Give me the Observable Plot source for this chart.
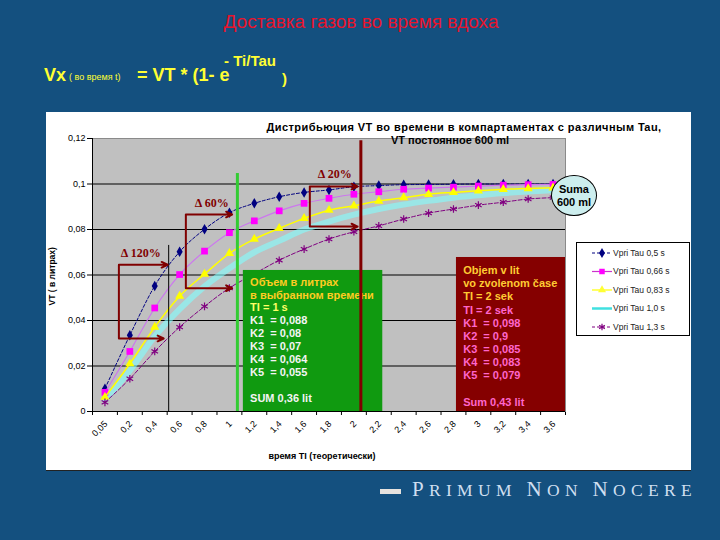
<!DOCTYPE html>
<html><head><meta charset="utf-8">
<script src="https://cdn.jsdelivr.net/npm/d3@7"></script>
<script src="https://cdn.jsdelivr.net/npm/@observablehq/plot@0.6"></script>
<style>
html,body{margin:0;padding:0;}
body{width:720px;height:540px;overflow:hidden;background:#14507f;font-family:"Liberation Sans",Arial,sans-serif;}
#slide{position:relative;width:720px;height:540px;}
.abs{position:absolute;white-space:nowrap;line-height:1;}
#chartbox{position:absolute;left:46px;top:112px;width:645px;height:358px;background:#fff;border-bottom:1px solid #222;z-index:0;}
#plot{position:absolute;left:0;top:0;z-index:1;}
#plot svg{overflow:visible;}
.hi{z-index:3;}
</style></head><body><div id="slide">
<div id="chartbox"></div>
<div id="plot"></div>
<div class="abs hi" style="left:0;width:722px;text-align:center;top:12px;font-size:19px;color:#e8142c;">Доставка газов во время вдоха</div>
<div class="abs hi" style="left:44px;top:65.8px;font-size:18px;font-weight:bold;color:#ffff33;">Vx</div>
<div class="abs hi" style="left:69px;top:73.4px;font-size:9px;color:#ffff33;">( во время t)</div>
<div class="abs hi" style="left:137px;top:65.8px;font-size:18px;font-weight:bold;color:#ffff33;">= VT * (1- e</div>
<div class="abs hi" style="left:224px;top:53.3px;font-size:15px;font-weight:bold;color:#ffff33;">- Ti/Tau</div>
<div class="abs hi" style="left:282px;top:71.3px;font-size:15px;font-weight:bold;color:#ffff33;">)</div>
<div id="t1" class="abs hi" style="left:214px;width:500px;text-align:center;top:121.7px;font-size:11px;letter-spacing:0.45px;font-weight:bold;color:#000;">Дистрибьюция VT во времени в компартаментах с различным Tau,</div>
<div id="t2" class="abs hi" style="left:250px;width:400px;text-align:center;top:134.7px;font-size:11px;font-weight:bold;color:#000;">VT постоянное 600 ml</div>
<div class="abs hi" style="left:172px;width:300px;text-align:center;top:452.4px;font-size:9px;font-weight:bold;color:#000;">время TI (теоретически)</div>
<div class="abs hi" style="left:22px;width:60px;text-align:center;top:272px;font-size:8.5px;font-weight:bold;color:#000;transform:rotate(-90deg);">VT ( в литрах)</div>
<div class="abs hi" style="left:551px;top:175px;width:46px;height:41px;box-sizing:border-box;border:1px solid #000;border-radius:50%;background:#cdeeee;text-align:center;font-size:11px;font-weight:bold;line-height:13px;padding-top:7px;color:#000;">Suma<br>600 ml</div>
<div id="legend" class="abs hi" style="left:576px;top:242px;"></div>
<div class="abs hi" style="left:380px;top:489px;width:21px;height:5px;background:#e6e2de;"></div>
<div id="motto" class="abs hi" style="left:412px;top:479.4px;font-family:'Liberation Serif','DejaVu Serif',serif;color:#cfdff0;font-size:17.5px;line-height:21px;"><span style="font-size:21px">P</span>RIMUM <span style="font-size:21px">N</span>ON <span style="font-size:21px">N</span>OCERE</div>
</div>
<script>
// ---- data ----
const categories = ["0,05","0,2","0,4","0,6","0,8","1","1,2","1,4","1,6","1,8","2","2,2","2,4","2,6","2,8","3","3,2","3,4","3,6"];
const seriesNames = ["Vpri Tau 0,5 s","Vpri Tau 0,66 s","Vpri Tau 0,83 s","Vpri Tau 1,0 s","Vpri Tau 1,3 s"];
const vTau05  = [0.0100,0.0335,0.0552,0.0702,0.0801,0.0874,0.0915,0.0944,0.0963,0.0974,0.0988,0.0993,0.0997,0.0998,0.0999,0.1000,0.1000,0.1000,0.1000];
const vTau066 = [0.0084,0.0264,0.0455,0.0602,0.0705,0.0786,0.0838,0.0882,0.0915,0.0937,0.0955,0.0966,0.0977,0.0982,0.0986,0.0991,0.0995,0.0997,0.0998];
const vTau083 = [0.0063,0.0210,0.0371,0.0507,0.0604,0.0695,0.0758,0.0805,0.0849,0.0885,0.0904,0.0925,0.0940,0.0955,0.0963,0.0970,0.0977,0.0980,0.0983];
const vTau10  = [0.0050,0.0180,0.0330,0.0450,0.0550,0.0630,0.0700,0.0750,0.0800,0.0835,0.0865,0.0890,0.0910,0.0926,0.0940,0.0950,0.0960,0.0967,0.0973];
const vTau13  = [0.0040,0.0144,0.0264,0.0371,0.0462,0.0543,0.0605,0.0665,0.0714,0.0758,0.0790,0.0816,0.0846,0.0872,0.0890,0.0907,0.0920,0.0934,0.0940];
const yTicks = [0,0.02,0.04,0.06,0.08,0.1,0.12];
const yTickLabels = ["0","0,02","0,04","0,06","0,08","0,1","0,12"];

const greenLines = [
  {t:"Объем в литрах", c:"#ffcc22"},
  {t:"в выбранном времени", c:"#ffcc22"},
  {t:"TI = 1 s", c:"#ffff66"},
  {t:"K1  = 0,088", c:"#f4f4f4"},
  {t:"K2  = 0,08", c:"#f4f4f4"},
  {t:"K3  = 0,07", c:"#f4f4f4"},
  {t:"K4  = 0,064", c:"#f4f4f4"},
  {t:"K5  = 0,055", c:"#f4f4f4"},
  {t:"", c:"#f4f4f4"},
  {t:"SUM 0,36 lit", c:"#f4f4f4"}
];
const maroonLines = [
  {t:"Objem v lit", c:"#ffcc33"},
  {t:"vo zvolenom čase", c:"#ffcc33"},
  {t:"TI = 2 sek", c:"#ffcc33"},
  {t:"TI = 2 sek", c:"#ff66cc"},
  {t:"K1  = 0,098", c:"#ff66cc"},
  {t:"K2  = 0,9", c:"#ff66cc"},
  {t:"K3  = 0,085", c:"#ff66cc"},
  {t:"K4  = 0,083", c:"#ff66cc"},
  {t:"K5  = 0,079", c:"#ff66cc"},
  {t:"", c:"#ff66cc"},
  {t:"Sum 0,43 lit", c:"#ff66cc"}
];

// ---- annotations (in data units: x = category index, y = litres) ----
const greenBox = [{x1:6.06, x2:11.66, top:0.062}];
const maroonBox = [{x1:14.62, x2:19, top:0.0677}];
const blackMark = [{x:3.06, top:0.073}];
const greenMark = [{x:5.82, top:0.1046}];
const maroonMark = [{x:10.78, top:0.119}];
const brackets = [
  {label:"\u0394 120%", x0:1.06, xTop:3.02, xBot:2.86, yTop:0.0645, yBot:0.0321, lx:1.94, ly:0.0695},
  {label:"\u0394 60%",  x0:3.75, xTop:5.61, xBot:5.61, yTop:0.0866, yBot:0.0542, lx:4.79, ly:0.0914},
  {label:"\u0394 20%",  x0:8.73, xTop:10.65, xBot:10.65, yTop:0.0989, yBot:0.0813, lx:9.73, ly:0.1042}
];

const toRows = vals => vals.map((v,i) => ({i: i + 0.5, v}));
const d05 = toRows(vTau05), d066 = toRows(vTau066), d083 = toRows(vTau083), d10 = toRows(vTau10), d13 = toRows(vTau13);
const xLabels = categories.map((c,i) => ({c, i: i + 0.5, v: 0}));
const curve = "monotone-x";

const boxText = (lines, box, first, step) => lines.map((l,k) =>
  Plot.text([l], {x: () => box.x1 + 0.27, y: () => box.top, text: "t", fill: "c",
    dy: first + k*step, textAnchor: "start", fontSize: 11, fontWeight: "bold"}));

const chart = Plot.plot({
  width: 720, height: 540,
  marginLeft: 92, marginRight: 155, marginTop: 138, marginBottom: 129,
  style: {background: "transparent", fontFamily: "'Liberation Sans', Arial, sans-serif", fontSize: "9px", color: "#000", overflow: "visible"},
  x: {domain: [0, categories.length], ticks: d3.range(categories.length + 1), tickFormat: () => "", tickSize: 4, label: null},
  y: {domain: [0, 0.12], ticks: yTicks, tickFormat: d => yTickLabels[yTicks.indexOf(d)], tickSize: 5, tickPadding: 2, label: null},
  marks: [
    Plot.frame({fill: "#c0c0c0", stroke: "#8a8a8a"}),
    Plot.ruleY(yTicks.filter(t => t > 0 && t < 0.12), {stroke: "#000", strokeWidth: 1}),
    Plot.line(d10, {x: "i", y: "v", stroke: "#80ffff", strokeWidth: 6, strokeOpacity: 0.6, curve}),
    Plot.line(d05, {x: "i", y: "v", stroke: "#000080", strokeWidth: 1, strokeDasharray: "3,2", curve}),
    Plot.dot(d05, {x: "i", y: "v", symbol: "diamond", fill: "#000080", r: 3.2}),
    Plot.line(d066, {x: "i", y: "v", stroke: "#cc77ee", strokeWidth: 1.2, curve}),
    Plot.dot(d066, {x: "i", y: "v", symbol: "square", fill: "#ff00ff", r: 3.8}),
    Plot.line(d083, {x: "i", y: "v", stroke: "#ffff00", strokeWidth: 1.5, curve}),
    Plot.dot(d083, {x: "i", y: "v", symbol: "triangle", fill: "#ffff00", r: 3.4}),
    Plot.line(d13, {x: "i", y: "v", stroke: "#800080", strokeWidth: 1, strokeDasharray: "4,2", curve}),
    Plot.dot(d13, {x: "i", y: "v", symbol: "asterisk", stroke: "#800080", strokeWidth: 1.2, r: 3.6}),
    Plot.ruleY([0], {stroke: "#000"}),
    Plot.ruleX([0], {stroke: "#000"}),
    Plot.ruleX(blackMark, {x: "x", y1: 0, y2: "top", stroke: "#000", strokeWidth: 1}),
    Plot.ruleX(greenMark, {x: "x", y1: 0, y2: "top", stroke: "#33cc33", strokeWidth: 3}),
    Plot.link(brackets, {x1: "x0", x2: "x0", y1: "yTop", y2: "yBot", stroke: "#800000", strokeWidth: 2}),
    Plot.arrow(brackets, {x1: "x0", x2: "xTop", y1: "yTop", y2: "yTop", stroke: "#800000", strokeWidth: 2, headLength: 5, headAngle: 50}),
    Plot.arrow(brackets, {x1: "x0", x2: "xBot", y1: "yBot", y2: "yBot", stroke: "#800000", strokeWidth: 2, headLength: 5, headAngle: 50}),
    Plot.text(brackets, {x: "lx", y: "ly", text: "label", fill: "#800000", fontFamily: "'Liberation Serif', serif", fontWeight: "bold", fontSize: 12}),
    Plot.rect(greenBox, {x1: "x1", x2: "x2", y1: 0, y2: "top", fill: "#109a10"}),
    ...boxText(greenLines, greenBox[0], 11.7, 12.9),
    Plot.rect(maroonBox, {x1: "x1", x2: "x2", y1: 0, y2: "top", fill: "#850000"}),
    ...boxText(maroonLines, maroonBox[0], 13, 13.17),
    Plot.ruleX(maroonMark, {x: "x", y1: 0, y2: "top", stroke: "#800000", strokeWidth: 3}),
    Plot.text(xLabels, {x: "i", y: "v", text: "c", dy: 11, dx: 1, rotate: -45, textAnchor: "end", fontSize: 9})
  ]
});
document.getElementById("plot").appendChild(chart);

// ---- legend ----
const legendStyles = [
  {stroke: "#000080", dash: "3,2", w: 1, sym: d3.symbolDiamond, fill: "#000080", size: 30},
  {stroke: "#cc33cc", dash: null, w: 1.2, sym: d3.symbolSquare, fill: "#ff00ff", size: 30},
  {stroke: "#ffff33", dash: null, w: 1.5, sym: d3.symbolTriangle, fill: "#ffff33", size: 28},
  {stroke: "#40e0e0", dash: null, w: 2.5, sym: null},
  {stroke: "#800080", dash: "3,2", w: 1, sym: d3.symbolAsterisk, stroke2: "#800080", size: 30}
];
const lg = d3.create("svg").attr("width", 115).attr("height", 95);
lg.append("rect").attr("x", 0.5).attr("y", 0.5).attr("width", 113).attr("height", 93).attr("fill", "#fff").attr("stroke", "#000");
seriesNames.forEach((name, k) => {
  const y = 11 + k * 18.5, s = legendStyles[k];
  lg.append("line").attr("x1", 16).attr("x2", 36).attr("y1", y).attr("y2", y)
    .attr("stroke", s.stroke).attr("stroke-width", s.w).attr("stroke-dasharray", s.dash);
  if (s.sym) {
    const p = lg.append("path").attr("d", d3.symbol(s.sym, s.size)()).attr("transform", `translate(26,${y})`);
    if (s.fill) p.attr("fill", s.fill); else p.attr("fill", "none").attr("stroke", s.stroke2).attr("stroke-width", 1.2);
  }
  lg.append("text").attr("x", 37).attr("y", y).attr("dy", "0.32em")
    .attr("font-size", 8.5).attr("font-family", "'Liberation Sans', Arial, sans-serif").attr("fill", "#222").text(name);
});
document.getElementById("legend").appendChild(lg.node());

// fit motto width
const motto = document.getElementById("motto");
const w0 = motto.getBoundingClientRect().width;
const nChars = motto.textContent.length;
motto.style.letterSpacing = ((285 - w0) / nChars) + "px";
</script>
</body></html>
